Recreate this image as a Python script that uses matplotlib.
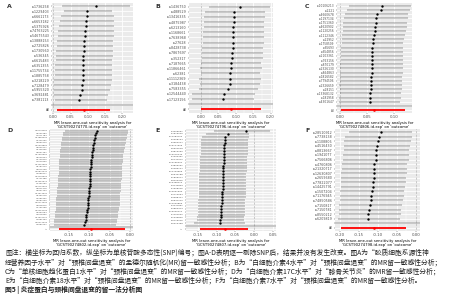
import matplotlib
matplotlib.use("Agg")
import matplotlib.pyplot as plt

# ---- panel A ----
snps_a = ["rs1736258", "rs1229403", "rs6661173", "rs6653182", "rs5375926", "rs74763225",
          "rs54675543", "rs13888153", "rs2725826", "rs1730560", "rs536345", "rs6615483",
          "rs6351355", "rs11755734", "rs1885758", "rs3218229", "rs7128479", "rs5955320",
          "rs3692481", "rs7381113"]
beta_a = [0.124, 0.099, 0.097, 0.095, 0.094, 0.093, 0.092, 0.090, 0.089, 0.088,
          0.087, 0.087, 0.087, 0.086, 0.086, 0.085, 0.084, 0.082, 0.078, 0.075]
lo_a = [0.025, 0.030, 0.023, 0.020, 0.016, 0.014, 0.013, 0.011, 0.010, 0.009,
        0.008, 0.007, 0.006, 0.005, 0.004, 0.001, 0.002, 0.003, 0.003, 0.004]
hi_a = [0.222, 0.170, 0.176, 0.176, 0.178, 0.177, 0.178, 0.175, 0.174, 0.173,
        0.173, 0.172, 0.171, 0.171, 0.170, 0.170, 0.169, 0.165, 0.158, 0.155]
all_a = [0.088, 0.011, 0.165]

# ---- panel B ----
snps_b = ["rs1436750", "rs488529", "rs13416335", "rs4875987", "rs6213160", "rs1168661",
          "rs7638968", "rs27628", "rs8428738", "rs7867697", "rs352317", "rs7187665",
          "rs11866461", "rs62381", "rs11112369", "rs3184438", "rs7583355", "rs12544440",
          "rs17123156"]
beta_b = [0.111, 0.096, 0.096, 0.094, 0.093, 0.093, 0.092, 0.0915, 0.091, 0.090,
          0.089, 0.087, 0.086, 0.085, 0.084, 0.083, 0.079, 0.066, 0.064]
lo_b = [0.024, 0.012, 0.010, 0.009, 0.008, 0.007, 0.006, 0.005, 0.004, 0.003,
        0.002, 0.001, -0.003, -0.001, -0.004, -0.002, -0.006, -0.024, -0.025]
hi_b = [0.197, 0.183, 0.184, 0.182, 0.181, 0.181, 0.180, 0.180, 0.179, 0.178,
        0.178, 0.174, 0.176, 0.171, 0.173, 0.169, 0.164, 0.155, 0.153]
all_b = [0.087, 0.000, 0.173]

# ---- panel C ----
snps_c = ["rs10106213", "rs2221", "rs4660678", "rs1197134", "rs1751360", "rs4620902",
          "rs1120256", "rs1112346", "rs22952", "rs1758509", "rs65693", "rs654856",
          "rs2103361", "rs763156", "rs870179", "rs2326130", "rs864863", "rs1816582",
          "rs7794506", "rs2326659", "rs28151", "rs13368132", "rs181958", "rs4301647"]
beta_c = [0.078, 0.0755, 0.069, 0.067, 0.066, 0.0656, 0.065, 0.0625, 0.061, 0.0607,
          0.060, 0.060, 0.0594, 0.0594, 0.0588, 0.0588, 0.0588, 0.058, 0.0575, 0.057,
          0.057, 0.056, 0.0556, 0.055]
lo_c = [0.016, 0.012, 0.008, 0.007, 0.006, 0.006, 0.005, 0.004, 0.003, 0.003,
        0.002, 0.002, 0.001, 0.001, 0.000, 0.000, -0.001, 0.000, -0.001, -0.002,
        -0.001, -0.001, -0.002, -0.002]
hi_c = [0.132, 0.130, 0.127, 0.126, 0.125, 0.124, 0.123, 0.121, 0.119, 0.118,
        0.118, 0.117, 0.117, 0.118, 0.117, 0.117, 0.118, 0.116, 0.116, 0.116,
        0.115, 0.114, 0.113, 0.112]
all_c = [0.0625, 0.002, 0.120]

# ---- panel D ----
snps_d = ["rs10743452", "rs2231983", "rs6071184", "rs11859204", "rs7140062", "rs2853919",
          "rs12038852", "rs4920117", "rs1126435", "rs9837451", "rs17620981", "rs3021844",
          "rs7729310", "rs6519830", "rs11210652", "rs4784513", "rs2071038", "rs10845210",
          "rs7986317", "rs13104925", "rs5741388", "rs17082611", "rs6463052", "rs12710391",
          "rs2912478", "rs9307123", "rs11574630", "rs4453718", "rs7281932", "rs1684029",
          "rs10171395", "rs3818476", "rs6751258", "rs12469103", "rs2397054", "rs8075936",
          "rs11940127", "rs6882463", "rs10471239", "rs5983021"]
beta_d = [-0.081, -0.083, -0.085, -0.087, -0.088, -0.089, -0.090, -0.091, -0.092, -0.093,
          -0.094, -0.094, -0.095, -0.095, -0.096, -0.096, -0.097, -0.097, -0.097, -0.098,
          -0.098, -0.099, -0.099, -0.099, -0.100, -0.100, -0.101, -0.101, -0.102, -0.102,
          -0.103, -0.103, -0.104, -0.105, -0.106, -0.107, -0.108, -0.109, -0.110, -0.112]
lo_d = [-0.160, -0.165, -0.166, -0.168, -0.168, -0.170, -0.170, -0.171, -0.172, -0.172,
        -0.173, -0.173, -0.174, -0.174, -0.175, -0.175, -0.176, -0.176, -0.176, -0.177,
        -0.177, -0.178, -0.178, -0.178, -0.179, -0.179, -0.180, -0.180, -0.181, -0.181,
        -0.182, -0.182, -0.183, -0.183, -0.184, -0.185, -0.185, -0.186, -0.187, -0.188]
hi_d = [-0.005, -0.004, -0.006, -0.008, -0.009, -0.010, -0.011, -0.012, -0.013, -0.015,
        -0.016, -0.016, -0.017, -0.017, -0.018, -0.018, -0.019, -0.019, -0.019, -0.020,
        -0.020, -0.021, -0.021, -0.021, -0.022, -0.022, -0.023, -0.023, -0.024, -0.024,
        -0.025, -0.025, -0.026, -0.027, -0.028, -0.029, -0.030, -0.031, -0.032, -0.034]
all_d = [-0.096, -0.175, -0.012]

# ---- panel E ----
snps_e = ["rs4265591", "rs7519046", "rs11283702", "rs2068134", "rs9952017", "rs13147625",
          "rs6604518", "rs3813290", "rs10275443", "rs7092361", "rs5741972", "rs12195204",
          "rs4806231", "rs2289147", "rs11703659", "rs6940188", "rs1865077", "rs8120345",
          "rs10498112", "rs3742803", "rs7608245", "rs12631990", "rs2710664", "rs9388417",
          "rs6537210", "rs11029856", "rs4147891", "rs2850373", "rs13026114", "rs7161502",
          "rs1039826", "rs6719045", "rs5013458"]
beta_e = [-0.021, -0.070, -0.077, -0.078, -0.078, -0.079, -0.079, -0.080, -0.080, -0.081,
          -0.081, -0.081, -0.082, -0.082, -0.082, -0.083, -0.083, -0.083, -0.084, -0.084,
          -0.084, -0.085, -0.085, -0.085, -0.086, -0.086, -0.087, -0.087, -0.088, -0.088,
          -0.089, -0.090, -0.092]
lo_e = [-0.107, -0.128, -0.140, -0.141, -0.141, -0.142, -0.142, -0.143, -0.143, -0.144,
        -0.144, -0.144, -0.145, -0.145, -0.145, -0.146, -0.146, -0.146, -0.147, -0.147,
        -0.147, -0.148, -0.148, -0.148, -0.149, -0.149, -0.150, -0.150, -0.151, -0.151,
        -0.152, -0.153, -0.160]
hi_e = [0.043, -0.013, -0.014, -0.015, -0.015, -0.016, -0.016, -0.017, -0.017, -0.018,
        -0.018, -0.018, -0.019, -0.019, -0.019, -0.020, -0.020, -0.020, -0.021, -0.021,
        -0.021, -0.022, -0.022, -0.022, -0.023, -0.023, -0.024, -0.024, -0.025, -0.025,
        -0.026, -0.027, -0.024]
all_e = [-0.078, -0.144, -0.016]

# ---- panel F ----
snps_f = ["rs28510912", "rs7738138", "rs1108806", "rs4516430", "rs8813667", "rs1941077",
          "rs7566806", "rs4760806", "rs21320717", "rs12630807", "rs2659680", "rs77822077",
          "rs14425791", "rs1507204", "rs71176945", "rs74850586", "rs7150817", "rs7150781",
          "rs8550212", "rs6209819"]
beta_f = [-0.092, -0.097, -0.100, -0.102, -0.104, -0.105, -0.106, -0.109, -0.110, -0.111,
          -0.111, -0.113, -0.114, -0.116, -0.118, -0.119, -0.122, -0.123, -0.125, -0.126]
lo_f = [-0.176, -0.187, -0.188, -0.189, -0.190, -0.191, -0.192, -0.194, -0.195, -0.196,
        -0.196, -0.197, -0.198, -0.199, -0.200, -0.200, -0.202, -0.202, -0.203, -0.204]
hi_f = [-0.011, -0.011, -0.013, -0.015, -0.017, -0.018, -0.019, -0.022, -0.023, -0.024,
        -0.025, -0.027, -0.028, -0.030, -0.032, -0.034, -0.037, -0.038, -0.040, -0.042]
all_f = [-0.110, -0.197, -0.026]

exposures = ["GCST90274770.id.exp", "GCST90274796.id.exp", "GCST90274806.id.exp",
             "GCST90274802.id.exp", "GCST90274807.id.exp", "GCST90274798.id.exp"]

caption = [
    "图注：横坐标为回归系数，纵坐标为单核苷酸多态性(SNP)编号；图A-D表明逐一剔除SNP后，结果并没有发生改变。图A为“胶质细胞系源性神",
    "经营养因子水平”对“颈椎间盘退变”的孟德尔随机化(MR)留一敏感性分析；B为“白细胞介素4水平”对“颈椎间盘退变”的MR留一敏感性分析；",
    "C为“单核细胞趋化蛋白1水平”对“颈椎间盘退变”的MR留一敏感性分析；D为“白细胞介素17C水平”对“膝骨关节炎”的MR留一敏感性分析；",
    "E为“白细胞介素18水平”对“颈椎间盘退变”的MR留一敏感性分析；F为“白细胞介素7水平”对“颈椎间盘退变”的MR留一敏感性分析。",
]
fig_title = "图5 | 炎症蛋白与颈椎间盘退变的留一法分析图"

W, H = 453, 300


def px_axes(fig, x0, y0, x1, y1):
    # pixel box (top-left origin) -> figure fraction
    return fig.add_axes([x0 / W, 1 - y1 / H, (x1 - x0) / W, (y1 - y0) / H])


def loo_panel(ax, snps, beta, lo, hi, tot, xlim, xticks, exp_name, yfs):
    n = len(snps)
    # y: All at 0, blank at 1, SNPs from top down
    ypos = [n + 1 - i for i in range(n)]
    ax.set_facecolor("#EBEBEB")
    for s in ax.spines.values():
        s.set_visible(False)
    # minor x grid
    for i in range(len(xticks) - 1):
        ax.axvline((xticks[i] + xticks[i + 1]) / 2, color="white", lw=0.3, zorder=0)
    ax.set_xticks(xticks)
    ax.grid(True, color="white", lw=0.6, zorder=0)
    ax.set_axisbelow(True)
    ax.axhline(1, color="#BEBEBE", lw=1.2, zorder=1)
    ax.axvline(0, color="#555555", lw=0.4, ls=(0, (1, 1.5)), zorder=1)
    ax.hlines(ypos, lo, hi, color="#333333", lw=0.35, zorder=2)
    ax.plot(beta, ypos, "o", color="black", ms=1.7, mew=0, zorder=3)
    ax.hlines([0], [tot[1]], [tot[2]], color="red", lw=1.3, zorder=2)
    ax.plot([tot[0]], [0], "o", color="red", ms=1.9, mew=0, zorder=3)
    ax.set_yticks([0, 1] + ypos)
    ax.set_yticklabels(["All", ""] + snps, fontsize=yfs, color="#4D4D4D")
    ax.set_xticklabels(["%.2f" % t for t in xticks], fontsize=2.8, color="#4D4D4D")
    ax.set_xlim(*xlim)
    ax.set_ylim(-0.7, n + 1.7)
    ax.tick_params(length=1, width=0.3, color="#333333", pad=0.8)
    ax.set_xlabel("MR leave-one-out sensitivity analysis for\n'%s' on 'outcome'" % exp_name,
                  fontsize=2.7, labelpad=1, linespacing=1.1)


fig = plt.figure(figsize=(W / 100, H / 100), dpi=100)
fig.patch.set_facecolor("white")

panels = [
    ("A", (52, 3, 133, 113), snps_a, beta_a, lo_a, hi_a, all_a, (-0.004, 0.232),
     [0.00, 0.05, 0.10, 0.15, 0.20], 2.3, (7, 7)),
    ("B", (189, 3, 273, 113), snps_b, beta_b, lo_b, hi_b, all_b, (-0.034, 0.207),
     [0.00, 0.05, 0.10, 0.15, 0.20], 2.3, (155, 7)),
    ("C", (337, 3, 412, 113), snps_c, beta_c, lo_c, hi_c, all_c, (-0.006, 0.134),
     [0.00, 0.05, 0.10], 2.1, (305, 7)),
    ("D", (50, 129, 133, 231), snps_d, beta_d, lo_d, hi_d, all_d, (-0.197, 0.008),
     [-0.15, -0.10, -0.05, 0.00], 1.5, (7, 131)),
    ("E", (186, 129, 276, 231), snps_e, beta_e, lo_e, hi_e, all_e, (-0.182, 0.059),
     [-0.15, -0.10, -0.05, 0.00, 0.05], 1.7, (155, 131)),
    ("F", (335, 129, 420, 231), snps_f, beta_f, lo_f, hi_f, all_f, (-0.213, 0.011),
     [-0.20, -0.15, -0.10, -0.05, 0.00], 2.3, (305, 131)),
]

for k, (lab, box, snps, beta, lo, hi, tot, xlim, xt, yfs, lpos) in enumerate(panels):
    ax = px_axes(fig, *box)
    loo_panel(ax, snps, beta, lo, hi, tot, xlim, xt, exposures[k], yfs)
    fig.text(lpos[0] / W, 1 - lpos[1] / H, lab, fontsize=4.5, fontweight="bold",
             color="#333333", ha="left", va="center")

# caption: pick a font size so the widest line spans about 443 px
cjk = ["Noto Sans CJK SC", "DejaVu Sans"]
line_y = [253, 263, 272, 281]
cap_texts = []
for txt, y in zip(caption, line_y):
    cap_texts.append(fig.text(5 / W, 1 - y / H, txt, fontsize=5.0, family=cjk,
                              ha="left", va="center", color="#222222"))
title_t = fig.text(5 / W, 1 - 290 / H, fig_title, fontsize=5.0, family=cjk,
                   fontweight="bold", ha="left", va="center", color="#222222")
fig.canvas.draw()
rend = fig.canvas.get_renderer()
widest = max(t.get_window_extent(rend).width for t in cap_texts)
fs = 5.0 * 443.0 / widest
for t in cap_texts:
    t.set_fontsize(fs)
title_t.set_fontsize(fs)

fig.savefig("out.png", dpi=100)
